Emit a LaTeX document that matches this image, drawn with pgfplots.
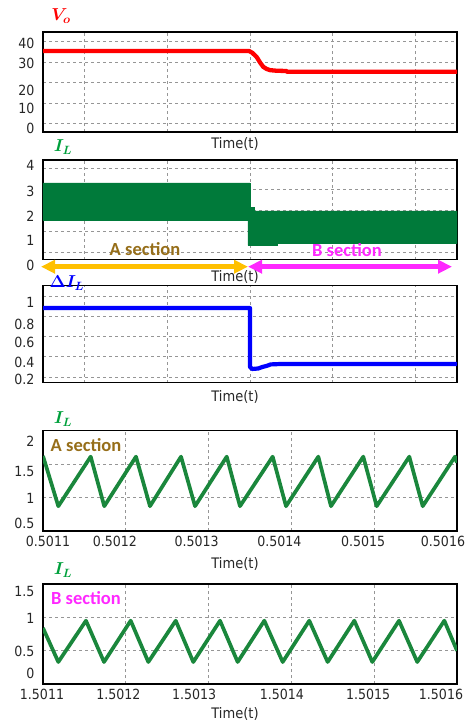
\documentclass[border=0pt]{standalone}
\usepackage{pgfplots}
\pgfplotsset{compat=1.18}
\usepackage{fontspec}
\usepackage{bm}
\usetikzlibrary{arrows.meta}
\newfontfamily\tickfont[FakeStretch=0.9]{DejaVu Sans}
\newfontfamily\secfont{Carlito}
\definecolor{vred}{RGB}{255,0,0}
\definecolor{bandgreen}{RGB}{0,122,58}
\definecolor{wavegreen}{RGB}{26,135,60}
\definecolor{titlegreen}{RGB}{0,160,60}
\definecolor{dblue}{RGB}{0,0,255}
\definecolor{asec}{RGB}{150,110,25}
\definecolor{bsec}{RGB}{255,40,255}
\definecolor{ayel}{RGB}{255,192,0}
\definecolor{gridgray}{RGB}{150,150,150}
\newcommand{\yl}[2]{\raisebox{#1}[0pt][0pt]{#2}}

\pgfplotsset{
  panel/.style={scale only axis, width=414pt, anchor=north west,
    axis line style={black, line width=1.1pt},
    major tick length=0pt, minor tick length=0pt,
    grid=major, grid style={gridgray, dash pattern=on 3pt off 3pt, line width=0.7pt},
    tick label style={font=\tickfont\fontsize{14}{15}\selectfont, text=black!85},
    /pgf/number format/assume math mode=true,
    yticklabel style={anchor=east, xshift=-5pt},
    xticklabel style={anchor=north, yshift=-2pt},
  },
  toppanel/.style={panel, xmin=0, xmax=2, xtick={0.2,0.6,1.0,1.4,1.8}, xticklabels={}},
}

\begin{document}
\begin{tikzpicture}
\useasboundingbox (0pt,0pt) rectangle (466pt,-723pt);

% Panel 1: Vo
\begin{axis}[toppanel, at={(43pt,-32pt)}, height=100pt, ymin=-4, ymax=44.5,
  ytick={0,10,20,30,40},
  yticklabels={\yl{-9.3pt}{0},\yl{-10pt}{10},\yl{-12.6pt}{20},\yl{-6.2pt}{30},\yl{-6.8pt}{40}}]
\addplot[vred, line width=4.3pt, line join=round] coordinates {
(0,35.3) (0.995,35.3) (1.01,34.5) (1.032,32.4) (1.05,29.5) (1.064,27.6) (1.08,26.6)
(1.097,26.0) (1.129,25.7) (1.175,25.6) (1.18,25.2) (2,25.2)};
\end{axis}

% Panel 2: IL envelope
\begin{axis}[toppanel, at={(43pt,-160pt)}, height=99.5pt, ymin=-0.36, ymax=4.4,
  ytick={0,1,2,3,4},
  yticklabels={\yl{-18.1pt}{0},\yl{-14pt}{1},\yl{-11.6pt}{2},\yl{-7.5pt}{3},\yl{-1.7pt}{4}}]
\addplot[fill=bandgreen, draw=bandgreen, line width=0.4pt] coordinates {
(0,1.52) (0,3.31) (1.0,3.31) (1.0,2.13) (1.02,2.13) (1.02,1.97) (2,1.97)
(2,0.43) (1.13,0.43) (1.13,0.32) (0.99,0.32) (0.99,1.52) (0,1.52)};
\end{axis}

% Panel 3: Delta IL
\begin{axis}[toppanel, at={(43pt,-285.7pt)}, height=97pt, ymin=0.145, ymax=1.1,
  ytick={0.2,0.4,0.6,0.8,1.0},
  yticklabels={\yl{-7.1pt}{0.2},\yl{-10.3pt}{0.4},\yl{-10.8pt}{0.6},\yl{-12.9pt}{0.8},\yl{-11.9pt}{1}}]
\addplot[dblue, line width=4.2pt, line join=round] coordinates {
(0,0.88) (1.0,0.88) (1.0,0.30) (1.01,0.28) (1.04,0.285) (1.06,0.30) (1.08,0.31)
(1.10,0.325) (1.16,0.33) (2,0.33)};
\end{axis}

% Panel 4: IL A section (x in microseconds after 0.5011 s)
\begin{axis}[panel, at={(43pt,-430.5pt)}, height=100.5pt, xmin=0, xmax=500,
  xtick={0,100,200,300,400,500},
  xticklabels={\hspace*{10pt}0.5011,0.5012\hspace*{22pt},0.5013\hspace*{24pt},0.5014\hspace*{24pt},0.5015\hspace*{22pt},0.5016\hspace*{28pt}},
  ymin=0.5, ymax=2, ytick={0.5,1,1.5,2},
  yticklabels={\yl{2.9pt}{0.5},\yl{-5.6pt}{1},\yl{-12.8pt}{1.5},\yl{-16.3pt}{2}}]
\addplot[wavegreen, line width=3.7pt, line join=round] coordinates {
(0,1.62) (18.5,0.87) (57.6,1.61) (74.0,0.87) (112.3,1.61) (129.2,0.87) (166.7,1.61)
(183.6,0.87) (221.9,1.61) (237.9,0.87) (277.4,1.61) (293.5,0.87) (332.5,1.61)
(347.8,0.87) (386.8,1.61) (403.0,0.87) (442.4,1.61) (458.6,0.87) (497.6,1.61) (500,1.52)};
\end{axis}

% Panel 5: IL B section (x in microseconds after 1.5011 s)
\begin{axis}[panel, at={(43pt,-584pt)}, height=100pt, xmin=0, xmax=500,
  xtick={0,100,200,300,400,500},
  xticklabels={1.5011\hspace*{2pt},1.5012\hspace*{15pt},1.5013\hspace*{29pt},1.5014\hspace*{19pt},1.5015\hspace*{12pt},1.5016\hspace*{32pt}},
  ymin=0, ymax=1.5, ytick={0,0.5,1,1.5},
  yticklabels={\yl{5.9pt}{0},\yl{-5.4pt}{0.5},\yl{-5.8pt}{1},\yl{-12.1pt}{1.5}}]
\addplot[wavegreen, line width=3.7pt, line join=round] coordinates {
(0,0.84) (18.5,0.33) (51.9,0.95) (73.7,0.33) (105.9,0.95) (127.2,0.33) (160.3,0.95)
(181.5,0.33) (213.8,0.95) (235.1,0.33) (267.3,0.95) (289.5,0.33) (321.6,0.95)
(343.8,0.33) (376.0,0.95) (397.7,0.33) (430.0,0.95) (452.0,0.33) (484.7,0.95) (500,0.5)};
\end{axis}

% Titles
\node[text=vred] at (61pt,-16pt) {\fontsize{18}{18}\selectfont$\bm{V_o}$};
\node[text=titlegreen] at (63pt,-147pt) {\fontsize{18}{18}\selectfont$\bm{I_L}$};
\node[text=dblue] at (67pt,-283pt) {\fontsize{18}{18}\selectfont$\bm{\Delta I_L}$};
\node[text=titlegreen] at (63pt,-419pt) {\fontsize{18}{18}\selectfont$\bm{I_L}$};
\node[text=titlegreen] at (63pt,-570pt) {\fontsize{18}{18}\selectfont$\bm{I_L}$};

% Time labels
\foreach \yy in {144,276.7,396.7,564,714}
  \node[text=black!85, inner sep=0pt] at (235pt,-\yy pt) {\tickfont\fontsize{14.5}{15}\selectfont Time(t)};

% Section arrows
\draw[ayel, line width=4.5pt, {Triangle[length=14pt,width=13pt]}-{Triangle[length=14pt,width=13pt]}] (41pt,-266.7pt) -- (248pt,-266.7pt);
\draw[bsec, line width=4.5pt, {Triangle[length=14pt,width=13pt]}-{Triangle[length=14pt,width=13pt]}] (248pt,-266.7pt) -- (452pt,-266.7pt);

% Section labels
\node[text=asec, inner sep=0pt] at (145pt,-249pt) {\secfont\bfseries\fontsize{18.5}{19}\selectfont A section};
\node[text=bsec, inner sep=0pt] at (347pt,-250pt) {\secfont\bfseries\fontsize{18.5}{19}\selectfont B section};
\node[text=asec, inner sep=0pt] at (86pt,-445pt) {\secfont\bfseries\fontsize{18.5}{19}\selectfont A section};
\node[text=bsec, inner sep=0pt] at (86pt,-598pt) {\secfont\bfseries\fontsize{18.5}{19}\selectfont B section};
\end{tikzpicture}
\end{document}
